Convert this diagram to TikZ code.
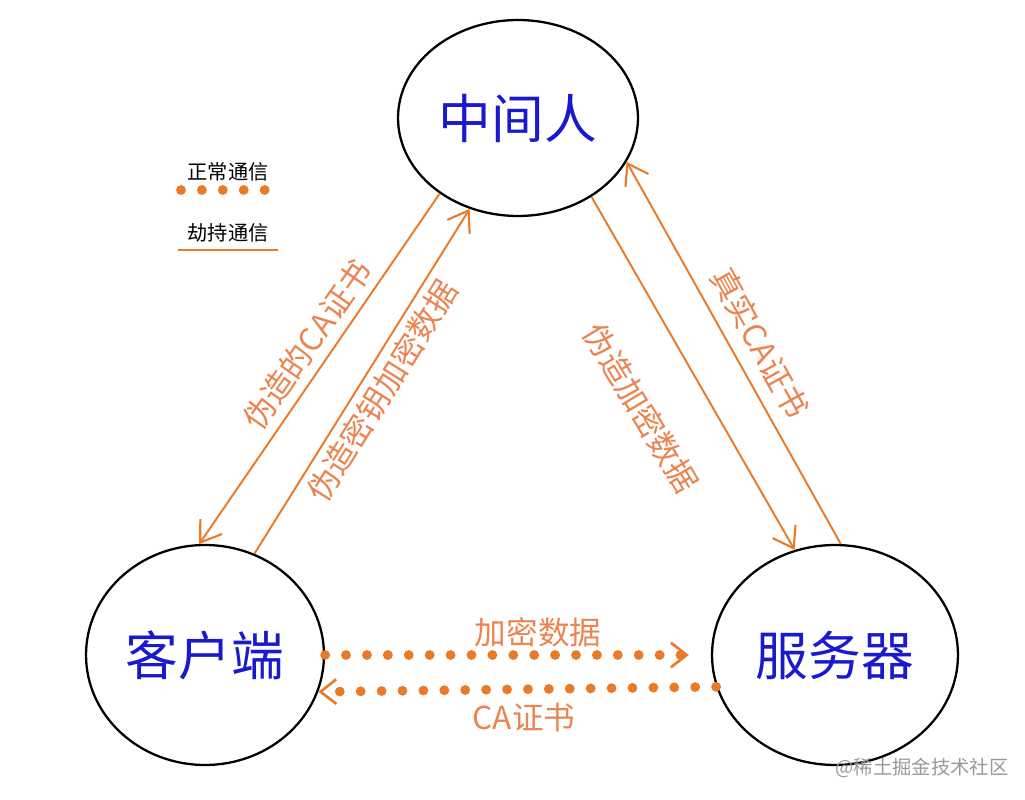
\documentclass[tikz,border=0pt]{standalone}
\usepackage{fontspec}
\setmainfont{Noto Sans CJK SC}
\usetikzlibrary{shapes.geometric, arrows.meta}
\definecolor{hijack}{RGB}{232,122,40}
\definecolor{labelorange}{RGB}{234,132,80}
\definecolor{hostblue}{RGB}{25,25,205}
\begin{document}
\begin{tikzpicture}[x=0.02cm, y=-0.02cm,
  host/.style={draw, ellipse, line width=1.3pt, inner sep=0pt,
    text=hostblue, font=\fontsize{30}{30}\selectfont},
  hijackline/.style={hijack, line width=1.1pt},
  normalline/.style={hijack, line width=5.6pt, line cap=round,
    dash pattern=on 0pt off 11.9pt},
  barb/.style={-{Straight Barb[length=11pt, width=15pt, line width=1.2pt]}},
  dotbarb/.style={-{Straight Barb[length=9pt, width=14pt, line width=1.5pt]}},
  lbl/.style={text=labelorange, font=\fontsize{18}{18}\selectfont},
  legend/.style={font=\fontsize{11.5}{11.5}\selectfont}]
  \useasboundingbox (0,0) rectangle (1025,800);

  % Hosts
  \node[host, minimum width=4.8cm, minimum height=3.92cm] (mid) at (518,118) {中间人};
  \node[host, minimum width=4.76cm, minimum height=4.4cm] (client) at (205,655) {客户端};
  \node[host, minimum width=4.92cm, minimum height=4.4cm] (server) at (835,655) {服务器};

  % Legend
  \node[legend] (normaltxt) at (228,172) {正常通信};
  \node[legend] (hijacktxt) at (228,233) {劫持通信};
  \coordinate (n1) at (181,190);
  \coordinate (n2) at (266,190);
  \coordinate (h1) at (178,250);
  \coordinate (h2) at (278,250);
  \draw[normalline] (n1) -- (n2);
  \draw[hijack, line width=1.7pt] (h1) -- (h2);

  % Hijacked traffic through the middle
  \draw[hijackline, barb] (mid.224) -- (client.93);
  \draw[hijackline, barb] (client.64) -- (mid.242);
  \draw[hijackline, barb] (mid.313) -- (server.111);
  \draw[hijackline, barb] (server.87) -- (mid.338);
  \node[lbl, rotate=55] (fakeca) at (307,345) {伪造的CA证书};
  \node[lbl, rotate=58] (fakekey) at (382,391) {伪造密钥加密数据};
  \node[lbl, rotate=-59] (fakedata) at (641,408) {伪造加密数据};
  \node[lbl, rotate=-61] (realca) at (760,343) {真实CA证书};

  % Normal traffic
  \draw[normalline, dotbarb, shorten >=0.44cm] (client.0) -- (server.180);
  \draw[normalline, dotbarb] (server.195) -- (client.-18);
  \node[lbl] (datatxt) at (538,632) {加密数据};
  \node[lbl] (catxt) at (524,718) {CA证书};

  \node[text=black!40, font=\fontsize{11}{11}\selectfont] (mark) at (922,768) {@稀土掘金技术社区};
\end{tikzpicture}
\end{document}
